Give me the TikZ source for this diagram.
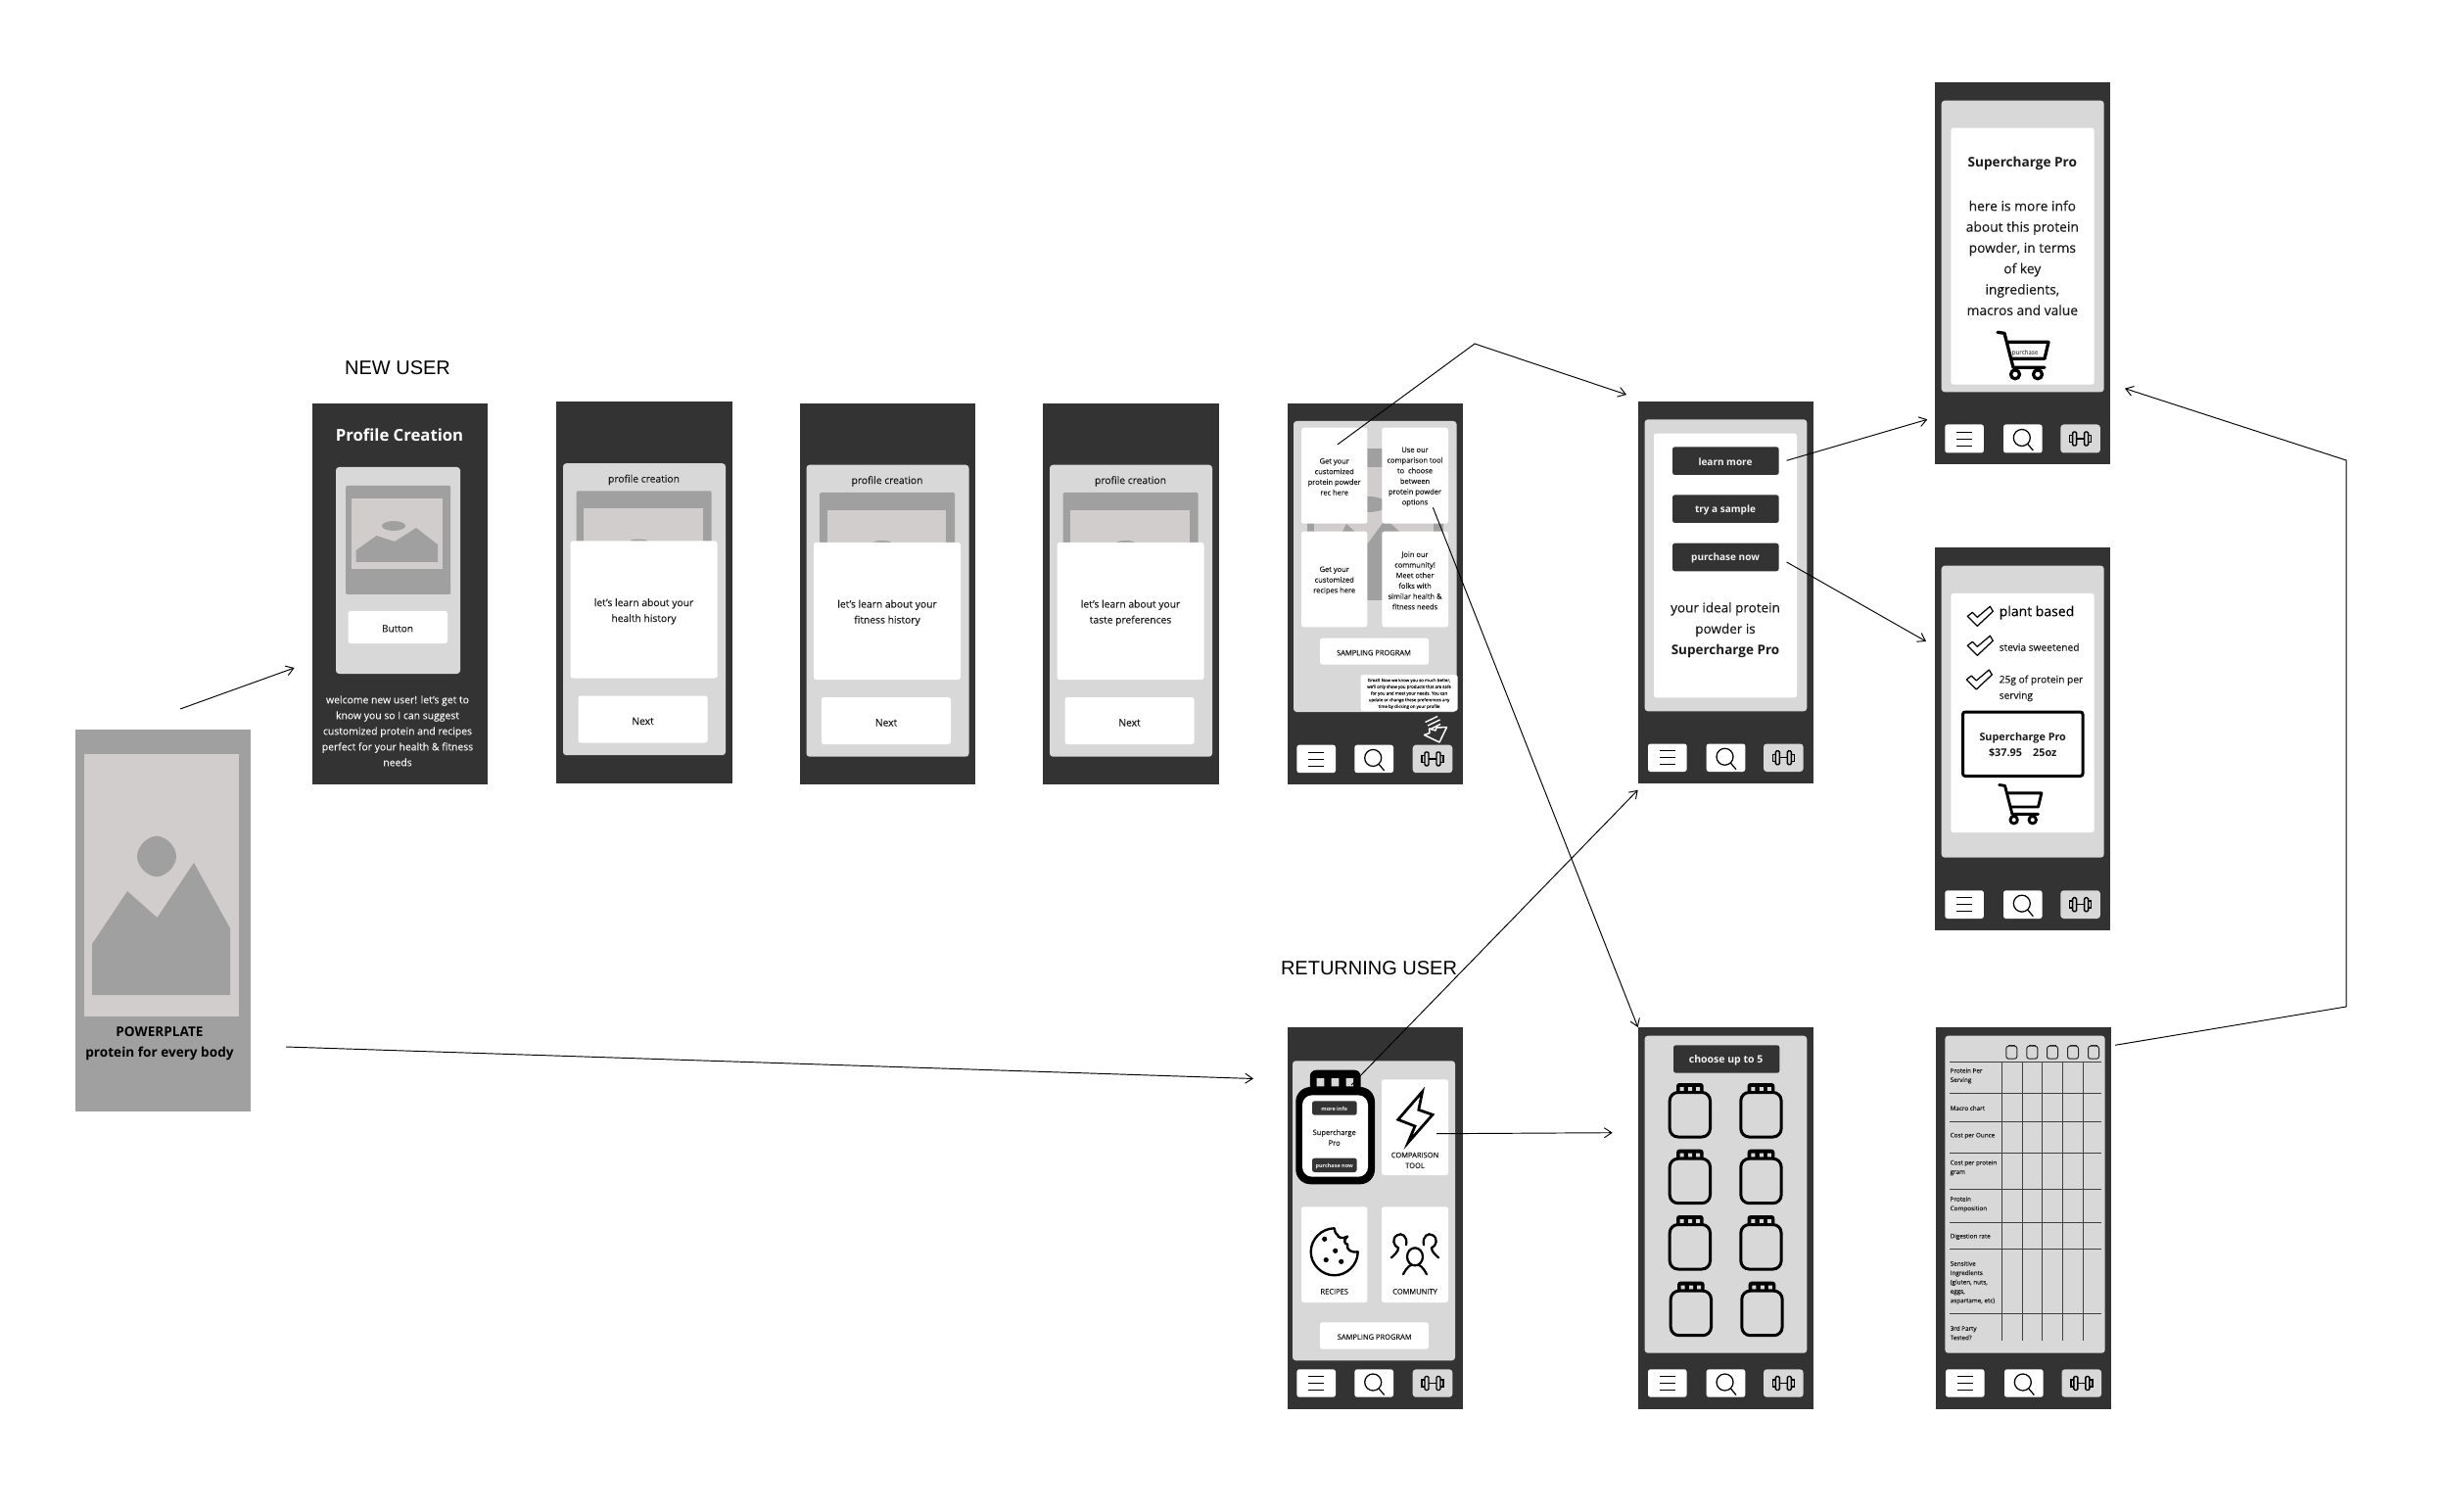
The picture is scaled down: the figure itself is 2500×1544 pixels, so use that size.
\documentclass[tikz,border=0pt]{standalone}
\usepackage{fontspec}
\setmainfont[FakeBold=0.12,BoldFeatures={FakeBold=0}]{Open Sans}
\newfontfamily\hv{Liberation Sans}
\usetikzlibrary{arrows.meta,calc}
\definecolor{dk}{HTML}{333333}
\definecolor{pn}{HTML}{D8D8D8}
\definecolor{gy}{HTML}{A0A0A0}
\definecolor{lt}{HTML}{D2CDCD}
\definecolor{ink}{HTML}{1A1A1A}
\definecolor{soft}{HTML}{F2F2F2}
\newcommand\fs[2]{\fontsize{\the\dimexpr #1pt*4/10\relax}{\the\dimexpr #2pt*4/10\relax}\selectfont}
\tikzset{
  x=0.4pt,y=-0.4pt,
  phone/.style={fill=dk,draw=none,inner sep=0pt,outer sep=0pt},
  pan/.style={fill=pn,rounded corners=1.3pt},
  wht/.style={fill=white,rounded corners=1pt},
  blk/.style={fill=dk,rounded corners=1pt},
  lbl/.style={inner sep=0pt,outer sep=0pt,align=center,text=ink,yshift=-0.35pt},
  conn/.style={draw=black,line width=0.38pt},
  tip/.style={conn,-{Straight Barb[length=3pt,width=4pt,line width=0.38pt]}},
  ico/.style={draw=black,line width=0.45pt},
}
\newcommand\scrn[6][]{\node[phone,#1,minimum width={(#5-#3)*0.4pt},minimum height={(#6-#4)*0.4pt}] (#2) at ({(#3+#5)/2},{(#4+#6)/2}) {};}
\newcommand\rr[5]{\path[#1] (#2,#3) rectangle (#4,#5);}
% nav buttons: menu x, search x, gym x, width, top y, height
\newcommand\navb[6]{%
  \rr{wht}{#1}{#5}{#1+#4}{#5+#6}\rr{wht}{#2}{#5}{#2+#4}{#5+#6}\rr{pan}{#3}{#5}{#3+#4+1}{#5+#6}%
  \begin{scope}[shift={({#1+#4/2},{#5+#6/2})}]
    \draw[ico,line width=0.32pt] (-8,-7)--(8,-7) (-8,0)--(8,0) (-8,7)--(8,7);
  \end{scope}
  \begin{scope}[shift={({#2+#4/2},{#5+#6/2})}]
    \draw[ico,line width=0.5pt] (-1,-1) circle[radius=8.5];
    \draw[ico,line width=0.5pt] (5,5.5)--(10.5,12);
  \end{scope}
  \begin{scope}[shift={({#3+#4/2+.5},{#5+#6/2})}]
    \draw[ico,line width=0.55pt,rounded corners=0.5pt] (-8,-7) rectangle (-4,7) (4,-7) rectangle (8,7);
    \draw[ico,line width=0.55pt] (-4,0)--(4,0) (-8,-3.5)--(-11,-3.5)--(-11,3.5)--(-8,3.5) (8,-3.5)--(11,-3.5)--(11,3.5)--(8,3.5);
  \end{scope}}
% profile step screen
\newcommand\stepscreen[4]{%
  \begin{scope}[shift={(#2,#3)}]
    \scrn{#1}{0}{411.7}{179.5}{801}
    \rr{pan}{7}{474.7}{173}{772.7}
    \node[lbl,font=\fs{10.3}{12}] (#1t) at (89.5,490.5) {profile creation};
    \rr{fill=gy,rounded corners=.5pt}{20.5}{503}{158.5}{560}
    \rr{fill=lt}{28}{521}{149.5}{560}
    \fill[gy] (84.5,554) ellipse[x radius=9,y radius=2];
    \rr{wht}{14.5}{554}{164.5}{694}
    \node[lbl,font=\fs{10.3}{16}] (#1q) at (89.5,625) {#4};
    \rr{wht}{22.5}{712}{154.5}{760}
    \node[lbl,font=\fs{10.3}{12}] (#1n) at (88.5,737) {Next};
  \end{scope}}
% jar: left, top
\newcommand\jar[2]{%
  \begin{scope}[shift={(#1,#2)}]
    \fill[black,rounded corners=1.2pt] (8.3,0) rectangle (36,12);
    \fill[pn] (12,4) rectangle (16,8) (20.5,4) rectangle (24.5,8) (28.5,4) rectangle (32.5,8);
    \draw[black,fill=pn,line width=1.2pt,rounded corners=3.4pt] (1.5,9.5) rectangle (42.8,55);
  \end{scope}}
\newcommand\tjar[1]{%
  \begin{scope}[shift={(#1,1066.7)}]
    \draw[black!85,line width=.4pt,fill=pn,rounded corners=1pt] (-5.5,1.5) rectangle (5.5,14.5);
    \draw[black!85,line width=.5pt] (-3.5,.5)--(3.5,.5);
  \end{scope}}
% cart: left, top, scale, width
\newcommand\cart[4]{%
  \begin{scope}[shift={(#1,#2)},scale=#3,line cap=round,line join=round]
    \draw[black,line width=#4] (0,1)--(7,2)--(16,37)--(48,37);
    \draw[black,line width=#4] (11,11)--(52,11)--(48,28)--(15,28);
    \draw[black,line width=#4] (18,44) circle[radius=4.5] (41,44) circle[radius=4.5];
  \end{scope}}
\newcommand\chk[2]{\draw[black,line width=.5pt,fill=white,line join=round,shift={(#1,#2)}] (0,10)--(5,6)--(10,11)--(23,0)--(26,5)--(10,20)--cycle;}
\begin{document}
\begin{tikzpicture}
\useasboundingbox (0,0) rectangle (2500,1544);
\fill[white] (0,0) rectangle (2500,1544);

% headings
\node[lbl,text=black,font={\hv\fs{20}{24}}] (newuser) at (406,374.5) {NEW USER};
\node[lbl,text=black,font={\hv\fs{20}{24}}] (retuser) at (1398,988) {RETURNING USER};

% splash
\scrn[fill=gy]{splash}{77}{745}{256}{1135}
\rr{fill=lt}{86}{770}{244}{1038}
\fill[gy] (160,853.5) .. controls (172,855) and (180,866) .. (180,874.5) .. controls (180,883) and (172,894) .. (160,895.5) .. controls (148,894) and (140,883) .. (140,874.5) .. controls (140,866) and (148,855) .. (160,853.5) -- cycle;
\fill[gy] (94,1016)--(94,964)--(130,910)--(160.5,937)--(198,881)--(235,948)--(235,1016)--cycle;
\node[lbl,text=black,font={\bfseries\fs{13.6}{21.5}}] (splasht) at (163,1065) {POWERPLATE\\protein for every body};

% profile creation
\scrn{profile}{319}{412}{498}{801}
\node[lbl,text=white,font={\bfseries\fs{16.7}{22}}] (profilet) at (408,443) {Profile Creation};
\rr{pan}{343}{477}{470}{688}
\rr{fill=gy,rounded corners=.5pt}{353}{496}{460}{607}
\rr{fill=lt}{359}{509}{452}{581}
\fill[gy] (402,537) ellipse[x radius=12,y radius=5];
\fill[gy] (363.6,574)--(363.6,562)--(384.5,547)--(403,553)--(425,539)--(447,556)--(447,574)--cycle;
\rr{wht}{355.5}{624}{457}{657}
\node[lbl,font=\fs{10}{12}] (profileb) at (406,641) {Button};
\node[lbl,text=soft,font=\fs{10.4}{16}] (profilep) at (406,745.5) {welcome new user! let's get to\\know you so I can suggest\\customized protein and recipes\\perfect for your health \& fitness\\needs};

% steps
\stepscreen{s1}{568}{-1.5}{let's learn about your\\health history}
\stepscreen{s2}{816.5}{0}{let's learn about your\\fitness history}
\stepscreen{s3}{1065}{0}{let's learn about your\\taste preferences}

% home (recommended) screen
\scrn{home}{1314.5}{412}{1493.5}{801}
\rr{pan}{1321}{430}{1487.5}{727}
\rr{fill=gy}{1335}{457.7}{1474}{613}
\rr{fill=lt}{1342}{477}{1464}{568}
\fill[gy] (1397,515) ellipse[x radius=20,y radius=8];
\fill[gy] (1358,568)--(1375,535)--(1397,555)--(1415,530)--(1457,568)--cycle;
\rr{wht}{1329}{436.7}{1396.4}{534.7}
\rr{wht}{1411.3}{436.7}{1479}{534.7}
\rr{wht}{1329}{542.7}{1396.4}{640.3}
\rr{wht}{1411.3}{542.7}{1479}{640.3}
\node[lbl,font=\fs{7.5}{10.7}] (c1) at (1362.7,486) {Get your\\customized\\protein powder\\rec here};
\node[lbl,font=\fs{7.5}{10.7}] (c2) at (1445,486) {Use our\\comparison tool\\to \ choose\\between\\protein powder\\options};
\node[lbl,font=\fs{7.5}{10.7}] (c3) at (1362.7,592) {Get your\\customized\\recipes here};
\node[lbl,font=\fs{7.5}{10.7}] (c4) at (1445,592) {Join our\\community!\\Meet other\\folks with\\similar health \&\\fitness needs};
\rr{wht}{1348}{651.7}{1459}{678.7}
\node[lbl,font=\fs{7.5}{10}] (samp1) at (1403,665.7) {SAMPLING PROGRAM};
\rr{wht}{1389.5}{689}{1488.6}{726}
\node[lbl,font=\fs{4.4}{6.7}] (tip1) at (1439,707.5) {Great! Now we know you so much better,\\we'll only show you products that are safe\\for you and meet your needs. You can\\update or change these preferences any\\time by clicking on your profile};
\draw[white,line width=.55pt] (1455.5,737.5)--(1468,731.5) (1458,741)--(1470.5,735) (1461,744.5)--(1471,739.5);
\draw[white,line width=.6pt,line join=round] (1459.5,744)--(1466,746)--(1467,743)--(1477.5,742.5)--(1470,758)--(1454.5,750.5)--(1460,748.5)--cycle;
\navb{1324.4}{1383.4}{1442.7}{39.6}{760.7}{28.5}

% learn more screen
\scrn{learn}{1672.7}{410}{1852}{800}
\rr{pan}{1679.6}{428.3}{1845.3}{726.3}
\rr{wht}{1689}{442.7}{1835}{712.3}
\rr{blk}{1708}{456.3}{1816.6}{485}
\rr{blk}{1708}{505.3}{1816.6}{534}
\rr{blk}{1708}{554.7}{1816.6}{583.3}
\node[lbl,text=soft,font={\bfseries\fs{10}{12}}] (b1) at (1762,471) {learn more};
\node[lbl,text=soft,font={\bfseries\fs{10}{12}}] (b2) at (1762,520) {try a sample};
\node[lbl,text=soft,font={\bfseries\fs{10}{12}}] (b3) at (1762,569) {purchase now};
\node[lbl,font=\fs{13.5}{21.5}] (ideal) at (1762,642.5) {your ideal protein\\powder is\\{\bfseries Supercharge Pro}};
\navb{1683}{1742.7}{1801}{39.6}{759.5}{28.5}

% more info screen
\scrn{info}{1976}{84.3}{2155.3}{474.3}
\rr{pan}{1982.7}{102.7}{2148.7}{400.3}
\rr{wht}{1992.3}{130.7}{2138.7}{392.7}
\node[lbl,font={\bfseries\fs{13.6}{16}}] (infot) at (2065.3,166) {Supercharge Pro};
\node[lbl,font=\fs{13.8}{21.3}] (infop) at (2065.3,262.5) {here is more info\\about this protein\\powder, in terms\\of key\\ingredients,\\macros and value};
\cart{2040}{338.3}{1}{1.3pt}
\node[lbl,text=black!60,font=\fs{6.2}{8}] (infoc) at (2068,359.3) {purchase};
\navb{1986.3}{2046}{2104.3}{39.6}{433.5}{29}

% purchase screen
\scrn{buy}{1976}{559.3}{2155.3}{949.7}
\rr{pan}{1982.7}{577.7}{2148.7}{875.7}
\rr{wht}{1992.3}{606}{2138.7}{850}
\chk{2009.3}{619.3}\chk{2009.3}{649.3}\chk{2008.3}{684}
\node[lbl,anchor=west,text=black,font=\fs{14}{16}] (k1) at (2041.7,624.7) {plant based};
\node[lbl,anchor=west,font=\fs{10.2}{16}] (k2) at (2041.7,660) {stevia sweetened};
\node[lbl,anchor=west,align=left,font=\fs{10.2}{16.3}] (k3) at (2041.7,702) {25g of protein per\\serving};
\draw[black,line width=1.2pt,fill=white,rounded corners=1pt] (2004.5,727) rectangle (2127,792.5);
\node[lbl,font={\bfseries\fs{10.8}{16}}] (buyt) at (2065.7,760) {Supercharge Pro\\\$37.95 \ \ \ 25oz};
\cart{2041.7}{800.7}{.83}{1.15pt}
\navb{1986.3}{2046}{2104.3}{39.6}{909.3}{28.7}

% returning user screen
\scrn{ret}{1314.5}{1049}{1493.5}{1439}
\rr{pan}{1320}{1083.3}{1486}{1389.3}
\rr{wht}{1411}{1102.3}{1479}{1200}
\rr{wht}{1329}{1232.3}{1396.4}{1330}
\rr{wht}{1411}{1232.3}{1479}{1330}
\rr{wht}{1348}{1350.3}{1459}{1377.7}
\node[lbl,font=\fs{7.5}{10}] (samp2) at (1403.7,1364.3) {SAMPLING PROGRAM};
% big jar
\fill[black,rounded corners=2.5pt] (1337.8,1092.7) rectangle (1389.5,1125);
\fill[pn] (1344.7,1101) rectangle (1352.4,1109.3) (1359.7,1101) rectangle (1367.3,1109.3) (1374.6,1101) rectangle (1382.2,1109.3);
\fill[black,rounded corners=6pt] (1323.3,1110) rectangle (1404,1209.3);
\fill[white,rounded corners=4pt] (1330,1118.3) rectangle (1397,1201.7);
\rr{blk}{1340}{1124.3}{1385.7}{1138.7}
\rr{blk}{1340}{1182.7}{1385.7}{1197}
\node[lbl,text=soft,font={\bfseries\fs{5.5}{7}}] (m1) at (1362.7,1131.3) {more info};
\node[lbl,text=soft,font={\bfseries\fs{5.5}{7}}] (m2) at (1362.7,1190) {purchase now};
\node[lbl,font=\fs{7.5}{10.7}] (m3) at (1362.7,1160.7) {Supercharge\\Pro};
% lightning
\draw[black,line width=1.1pt,line join=miter] (1452.6,1114.7)--(1427.8,1143.3)--(1445,1150)--(1438,1166.7)--(1463,1138.3)--(1448.8,1133.3)--cycle;
\node[lbl,font=\fs{7.5}{10.7}] (m4) at (1445,1184) {COMPARISON\\TOOL};
% cookie
\begin{scope}[shift={(1362.7,1278.3)}]
  \draw[black,line width=.95pt,line join=round]
    (0,-24) .. controls (-13,-24) and (-24,-13) .. (-24,0)
    .. controls (-24,13) and (-13,24) .. (0,24)
    .. controls (13,24) and (24,13) .. (24,0)
    .. controls (17,1) and (12,-2) .. (13.4,-7.7)
    .. controls (10,-8) and (9,-12) .. (13.4,-15.7)
    .. controls (8,-12) and (2,-16) .. (3.8,-16.7)
    .. controls (1,-19) and (0,-21) .. (0,-24) -- cycle;
  \fill[black] (-10,-13) circle[radius=2.6] (1,-1) circle[radius=2.6] (-8.5,8.3) circle[radius=2.6] (7,10) circle[radius=2.6];
\end{scope}
\node[lbl,font=\fs{7.5}{10}] (m5) at (1362.7,1318) {RECIPES};
% community
\begin{scope}[shift={(1445,1283.3)},line cap=round]
  \draw[black,line width=.9pt] (0,0) ellipse[x radius=8,y radius=9];
  \draw[black,line width=.9pt] (-12,18) .. controls (-8,10) and (-4,8) .. (-3,8.5) (12,18) .. controls (8,10) and (4,8) .. (3,8.5);
  \foreach \s in {1,-1}{
    \draw[black,line width=.9pt,xscale=\s] (-9,-12) .. controls (-7,-21) and (-14,-25) .. (-18,-22) .. controls (-24,-19) and (-22,-11) .. (-17,-9) .. controls (-17,-5) and (-21,-2) .. (-24,1);
  }
\end{scope}
\node[lbl,font=\fs{7.5}{10}] (m6) at (1445,1318) {COMMUNITY};
\navb{1324.4}{1383.4}{1442.7}{39.6}{1398.3}{28.4}

% choose screen
\scrn{choose}{1672.7}{1049}{1852}{1439}
\rr{pan}{1679.6}{1057.7}{1845.3}{1381.7}
\rr{blk}{1709}{1067.3}{1817.4}{1095.7}
\node[lbl,text=soft,font={\bfseries\fs{10.5}{12}}] (cht) at (1762.6,1081.7) {choose up to 5};
\jar{1703.7}{1106}\jar{1776.3}{1106}
\jar{1703.7}{1173.7}\jar{1776.3}{1173.7}
\jar{1703.7}{1241}\jar{1776.3}{1241}
\jar{1704.7}{1308.7}\jar{1777.3}{1308.7}
\navb{1683}{1742.7}{1801}{39.6}{1398.3}{28.4}

% table screen
\scrn{table}{1977}{1049}{2156.3}{1439}
\rr{pan}{1986.3}{1057.7}{2149.7}{1381.7}
\tjar{2054.3}\tjar{2075.3}\tjar{2096}\tjar{2117}\tjar{2138}
\draw[black!75,line width=.3pt]
  (1991.3,1084.7)--(2146,1084.7) (1991.3,1116.7)--(2146,1116.7) (1991.3,1145.7)--(2146,1145.7)
  (1991.3,1177.7)--(2146,1177.7) (1991.3,1214.3)--(2146,1214.3) (1991.3,1248.7)--(2146,1248.7)
  (1991.3,1275.7)--(2146,1275.7) (1991.3,1341.7)--(2146,1341.7)
  (2044.3,1084.7)--(2044.3,1369) (2065.3,1084.7)--(2065.3,1369) (2085.7,1084.7)--(2085.7,1369)
  (2106,1084.7)--(2106,1369) (2127.3,1084.7)--(2127.3,1369);
\tikzset{tb/.style={lbl,anchor=west,align=left,font=\fs{6.3}{9.4}}}
\node[tb] (r1) at (1991.7,1097.8) {Protein Per\\Serving};
\node[tb] (r2) at (1991.7,1130.7) {Macro chart};
\node[tb] (r3) at (1991.7,1159) {Cost per Ounce};
\node[tb] (r4) at (1991.7,1191.7) {Cost per protein\\gram};
\node[tb] (r5) at (1991.7,1229) {Protein\\Composition};
\node[tb] (r6) at (1991.7,1262) {Digestion rate};
\node[tb] (r7) at (1991.7,1309) {Sensitive\\Ingredients\\(gluten, nuts,\\eggs,\\aspartame, etc)};
\node[tb] (r8) at (1991.7,1360.3) {3rd Party\\Tested?};
\navb{1987}{2047}{2105.5}{39.6}{1398.3}{28.4}

% connector ends
\coordinate (a1) at (184,724);   \coordinate (a2) at (300.6,682);
\coordinate (b1) at (292,1069);  \coordinate (b2) at (1280,1101.5);
\coordinate (d1) at (1365.8,454);\coordinate (d2) at (1506,351);\coordinate (d3) at (1661,403);
\coordinate (e1) at (1463.4,518.3); \coordinate (e2) at (1672.7,1049);
\coordinate (f1) at (1380,1108); \coordinate (f2) at (1672.7,806.7);
\coordinate (g1) at (1824.6,470.3); \coordinate (g2) at (1968.3,428.3);
\coordinate (h1) at (1824.6,574); \coordinate (h2) at (1967,655);
\coordinate (i1) at (1467,1157.7); \coordinate (i2) at (1646.7,1156.7);
\coordinate (j1) at (2160,1067.3); \coordinate (j2) at (2396,1028); \coordinate (j3) at (2396,470); \coordinate (j4) at (2170,396.7);
\draw[tip] (a1)--(a2);
\draw[tip] (b1)--(b2);
\draw[tip] (d1)--(d2)--(d3);
\draw[tip] (e1)--(e2);
\draw[tip] (f1)--(f2);
\draw[tip] (g1)--(g2);
\draw[tip] (h1)--(h2);
\draw[tip] (i1)--(i2);
\draw[tip] (j1)--(j2)--(j3)--(j4);
\end{tikzpicture}
\end{document}
